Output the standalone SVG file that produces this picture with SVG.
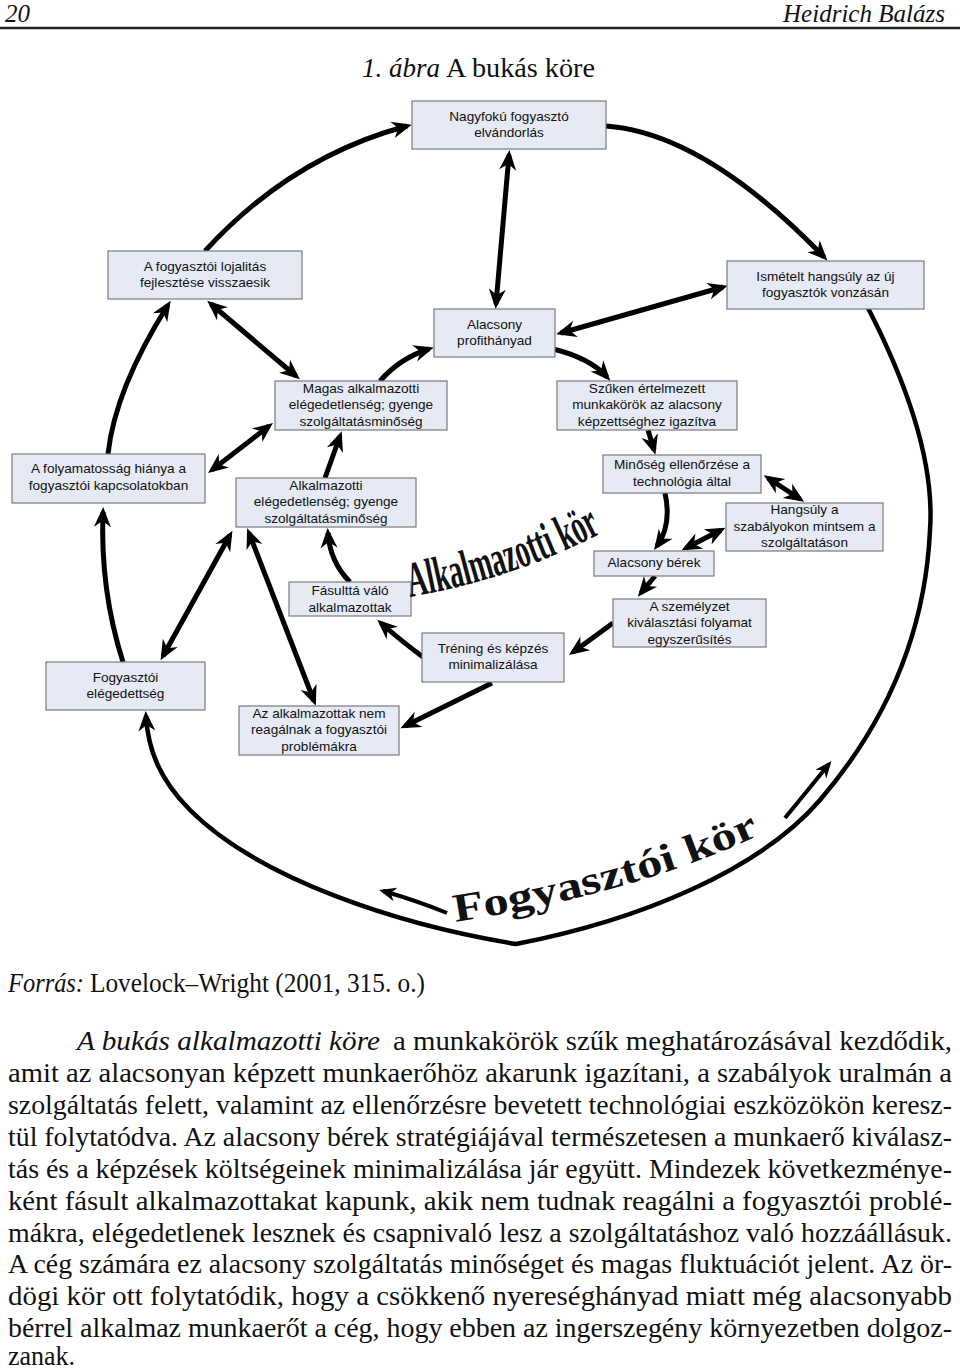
<svg xmlns="http://www.w3.org/2000/svg" width="960" height="1371" viewBox="0 0 960 1371">
<style>
.bx{fill:#e5eaf4;stroke:#7a7a7a;stroke-width:1.2}
.n{font-family:"Liberation Sans",Arial,sans-serif;font-size:13.6px;text-anchor:middle;fill:#111}
.s{font-family:"Liberation Serif","Times New Roman",serif;fill:#111}
.b{font-size:27px}
.i{font-style:italic}
.c{fill:none;stroke:#000;stroke-width:5}
.a{marker-end:url(#ah)}
.d{marker-start:url(#ah);marker-end:url(#ah)}
.arc{fill:none;stroke:#000;stroke-width:4.5;stroke-linejoin:round}
.sm{fill:none;stroke:#000;stroke-width:4;marker-end:url(#ahs)}
</style>
<defs>
<marker id="ah" viewBox="-17 -10 24 20" markerWidth="24" markerHeight="20" refX="0" refY="0" orient="auto-start-reverse" markerUnits="userSpaceOnUse"><path d="M5,0 L-15,-8.5 L-9,0 L-15,8.5 Z" fill="#000"/></marker>
<marker id="ahs" viewBox="-17 -10 24 20" markerWidth="24" markerHeight="20" refX="0" refY="0" orient="auto" markerUnits="userSpaceOnUse"><path d="M4,0 L-13,-7 L-8,0 L-13,7 Z" fill="#000"/></marker>
<path id="pk" d="M410,597 Q515,579 607,530"/>
<path id="pf" d="M455,922 Q640,893 770,830"/>
</defs>
<rect width="960" height="1371" fill="#fff"/>

<g id="header">
<text class="s i" x="5" y="22" font-size="25" textLength="25" lengthAdjust="spacingAndGlyphs">20</text>
<text class="s i" x="783" y="22" font-size="25" textLength="162" lengthAdjust="spacingAndGlyphs">Heidrich Balázs</text>
<line x1="0" y1="28" x2="960" y2="28" stroke="#222" stroke-width="2.5"/>
<text class="s i" x="362" y="77" font-size="27" textLength="78" lengthAdjust="spacingAndGlyphs">1. ábra</text>
<text class="s" x="446" y="77" font-size="27" textLength="149" lengthAdjust="spacingAndGlyphs">A bukás köre</text>
</g>

<g id="connectors">
<path class="c a" d="M205,251 Q291,157 407,126"/>
<path class="c a" d="M606,126 Q704,133 824,257"/>
<path class="c d" d="M509,155 L496,304"/>
<path class="c d" d="M561,333 L723,287"/>
<path class="c a" d="M553,349 Q590,358 607,377"/>
<path class="c a" d="M380,381 Q400,358 429,349"/>
<path class="c d" d="M211,304 L296,376"/>
<path class="c a" d="M108,454 Q115,389 168,305"/>
<path class="c d" d="M212,470 L269,426"/>
<path class="c a" d="M325,478 L340,436"/>
<path class="c a" d="M350,582 Q330,562 328,533"/>
<path class="c a" d="M123,662 Q100,590 103,512"/>
<path class="c d" d="M230,535 L163,656"/>
<path class="c d" d="M249,533 L314,701"/>
<path class="c a" d="M423,657 Q400,640 381,623"/>
<path class="c a" d="M492,683 L405,726"/>
<path class="c a" d="M648,430 L654,450"/>
<path class="c a" d="M665,493 Q672,525 657,546"/>
<path class="c d" d="M768,478 L800,499"/>
<path class="c d" d="M686,548 L721,530"/>
<path class="c a" d="M655,576 L641,593"/>
<path class="c a" d="M613,623 Q590,640 573,652"/>
<path class="arc" marker-end="url(#ah)" d="M868,308 C905,380 935,460 930,530 C925,640 880,730 820,800 C760,870 640,920 516,944 C400,925 260,880 190,810 C160,780 148,750 146,716"/>
<path class="sm" d="M447,913 Q415,900 383,891"/>
<path class="sm" d="M785,818 Q808,790 829,764"/>
</g>

<g id="n-nagyfoku"><rect class="bx" x="412" y="101" width="194" height="48"/><text class="n" x="509" y="120.5">Nagyfokú fogyasztó</text><text class="n" x="509" y="136.5">elvándorlás</text></g>
<g id="n-lojalitas"><rect class="bx" x="108" y="251" width="194" height="48"/><text class="n" x="205" y="270.5">A fogyasztói lojalitás</text><text class="n" x="205" y="286.5">fejlesztése visszaesik</text></g>
<g id="n-ismetelt"><rect class="bx" x="727" y="261" width="197" height="48"/><text class="n" x="825.5" y="280.5">Ismételt hangsúly az új</text><text class="n" x="825.5" y="296.5">fogyasztók vonzásán</text></g>
<g id="n-profit"><rect class="bx" x="434" y="309" width="121" height="48"/><text class="n" x="494.5" y="328.5">Alacsony</text><text class="n" x="494.5" y="344.5">profithányad</text></g>
<g id="n-magas"><rect class="bx" x="275" y="381" width="172" height="49"/><text class="n" x="361" y="392.5">Magas alkalmazotti</text><text class="n" x="361" y="409">elégedetlenség; gyenge</text><text class="n" x="361" y="425.5">szolgáltatásminőség</text></g>
<g id="n-szuken"><rect class="bx" x="557" y="381" width="180" height="49"/><text class="n" x="647" y="392.5">Szűken értelmezett</text><text class="n" x="647" y="409">munkakörök az alacsony</text><text class="n" x="647" y="425.5">képzettséghez igazítva</text></g>
<g id="n-folyamatossag"><rect class="bx" x="12" y="454" width="193" height="49"/><text class="n" x="108.5" y="473">A folyamatosság hiánya a</text><text class="n" x="108.5" y="489.5">fogyasztói kapcsolatokban</text></g>
<g id="n-minoseg"><rect class="bx" x="603" y="455" width="158" height="38"/><text class="n" x="682" y="468.5">Minőség ellenőrzése a</text><text class="n" x="682" y="485.5">technológia által</text></g>
<g id="n-alkalmazotti"><rect class="bx" x="236" y="478" width="180" height="49"/><text class="n" x="326" y="489.5">Alkalmazotti</text><text class="n" x="326" y="506">elégedetlenség; gyenge</text><text class="n" x="326" y="522.5">szolgáltatásminőség</text></g>
<g id="n-hangsuly"><rect class="bx" x="726" y="503" width="157" height="48"/><text class="n" x="804.5" y="514">Hangsúly a</text><text class="n" x="804.5" y="530.5">szabályokon mintsem a</text><text class="n" x="804.5" y="547">szolgáltatáson</text></g>
<g id="n-berek"><rect class="bx" x="594" y="551" width="120" height="25"/><text class="n" x="654" y="566.5">Alacsony bérek</text></g>
<g id="n-fasult"><rect class="bx" x="289" y="582" width="122" height="34"/><text class="n" x="350" y="594.5">Fásulttá váló</text><text class="n" x="350" y="611.5">alkalmazottak</text></g>
<g id="n-szemelyzet"><rect class="bx" x="613" y="599" width="153" height="48"/><text class="n" x="689.5" y="610.5">A személyzet</text><text class="n" x="689.5" y="627">kiválasztási folyamat</text><text class="n" x="689.5" y="643.5">egyszerűsítés</text></g>
<g id="n-trening"><rect class="bx" x="422" y="633" width="142" height="49"/><text class="n" x="493" y="652.5">Tréning és képzés</text><text class="n" x="493" y="668.5">minimalizálása</text></g>
<g id="n-elegedettseg"><rect class="bx" x="46" y="662" width="159" height="48"/><text class="n" x="125.5" y="682">Fogyasztói</text><text class="n" x="125.5" y="698">elégedettség</text></g>
<g id="n-nemreagal"><rect class="bx" x="239" y="706" width="160" height="49"/><text class="n" x="319" y="717.5">Az alkalmazottak nem</text><text class="n" x="319" y="734">reagálnak a fogyasztói</text><text class="n" x="319" y="750.5">problémákra</text></g>

<g id="labels">
<text class="s" font-size="50" font-weight="bold"><textPath href="#pk" textLength="203" lengthAdjust="spacingAndGlyphs">Alkalmazotti kör</textPath></text>
<text class="s" font-size="40" font-weight="bold"><textPath href="#pf" textLength="318" lengthAdjust="spacingAndGlyphs">Fogyasztói kör</textPath></text>
</g>

<g id="text">
<text class="s b i" x="8" y="992" textLength="76" lengthAdjust="spacingAndGlyphs">Forrás:</text>
<text class="s b" x="90" y="992" textLength="335" lengthAdjust="spacingAndGlyphs">Lovelock–Wright (2001, 315. o.)</text>
<text class="s b i" x="77" y="1050" textLength="303" lengthAdjust="spacingAndGlyphs">A bukás alkalmazotti köre</text>
<text class="s b" x="393" y="1050" textLength="559" lengthAdjust="spacingAndGlyphs">a munkakörök szűk meghatározásával kezdődik,</text>
<text class="s b" x="8" y="1082" textLength="944" lengthAdjust="spacingAndGlyphs">amit az alacsonyan képzett munkaerőhöz akarunk igazítani, a szabályok uralmán a</text>
<text class="s b" x="8" y="1114" textLength="944" lengthAdjust="spacingAndGlyphs">szolgáltatás felett, valamint az ellenőrzésre bevetett technológiai eszközökön keresz-</text>
<text class="s b" x="8" y="1146" textLength="944" lengthAdjust="spacingAndGlyphs">tül folytatódva. Az alacsony bérek stratégiájával természetesen a munkaerő kiválasz-</text>
<text class="s b" x="8" y="1178" textLength="944" lengthAdjust="spacingAndGlyphs">tás és a képzések költségeinek minimalizálása jár együtt. Mindezek következménye-</text>
<text class="s b" x="8" y="1210" textLength="944" lengthAdjust="spacingAndGlyphs">ként fásult alkalmazottakat kapunk, akik nem tudnak reagálni a fogyasztói problé-</text>
<text class="s b" x="8" y="1242" textLength="944" lengthAdjust="spacingAndGlyphs">mákra, elégedetlenek lesznek és csapnivaló lesz a szolgáltatáshoz való hozzáállásuk.</text>
<text class="s b" x="8" y="1273" textLength="944" lengthAdjust="spacingAndGlyphs">A cég számára ez alacsony szolgáltatás minőséget és magas fluktuációt jelent. Az ör-</text>
<text class="s b" x="8" y="1305" textLength="944" lengthAdjust="spacingAndGlyphs">dögi kör ott folytatódik, hogy a csökkenő nyereséghányad miatt még alacsonyabb</text>
<text class="s b" x="8" y="1337" textLength="944" lengthAdjust="spacingAndGlyphs">bérrel alkalmaz munkaerőt a cég, hogy ebben az ingerszegény környezetben dolgoz-</text>
<text class="s b" x="8" y="1365" textLength="67" lengthAdjust="spacingAndGlyphs">zanak.</text>
</g>
</svg>
